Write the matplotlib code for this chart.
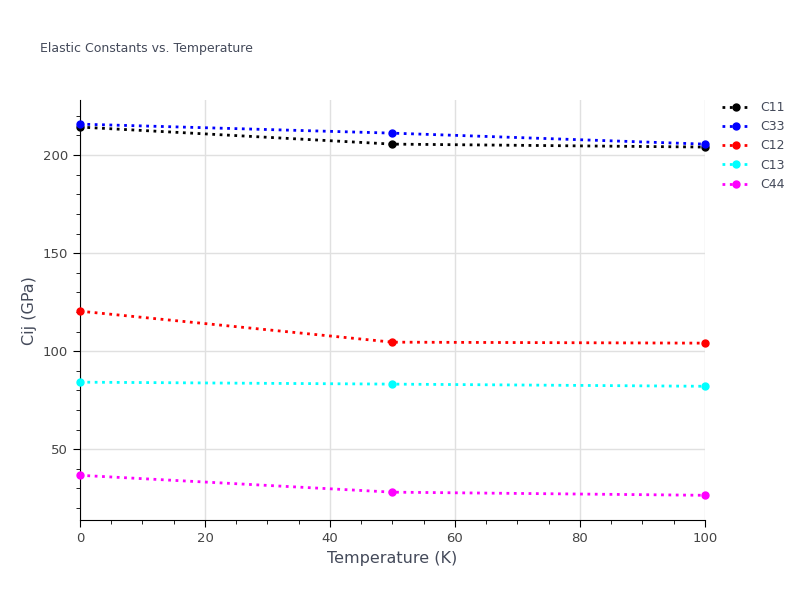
import matplotlib.pyplot as plt
from matplotlib.ticker import MultipleLocator

temperature = [0, 50, 100]
c11 = [214.3, 205.6, 204.1]
c33 = [215.8, 211.2, 205.6]
c12 = [120.4, 104.6, 104.1]
c13 = [84.2, 83.2, 82.1]
c44 = [36.7, 28.1, 26.5]

series = [("C11", c11, "black"), ("C33", c33, "blue"), ("C12", c12, "red"),
          ("C13", c13, "cyan"), ("C44", c44, "magenta")]

fig = plt.figure(figsize=(8, 6), dpi=100)
ax = fig.add_axes([0.1, 0.133, 0.781, 0.7])

for name, values, color in series:
    ax.plot(temperature, values, linestyle=":", linewidth=2, color=color,
            marker="o", markersize=5, label=name, clip_on=False, zorder=3)

ax.set_xlim(0, 100)
ax.set_ylim(13.8, 228)
ax.xaxis.set_major_locator(MultipleLocator(20))
ax.xaxis.set_minor_locator(MultipleLocator(5))
ax.yaxis.set_major_locator(MultipleLocator(50))
ax.yaxis.set_minor_locator(MultipleLocator(10))
ax.grid(True, which="major", color="#e0e0e0", linewidth=1)
for side in ("top", "right"):
    ax.spines[side].set_visible(False)
for side in ("left", "bottom"):
    ax.spines[side].set_color("black")
ax.tick_params(colors="#444444", labelsize=9.5, which="both", color="black")
ax.tick_params(which="major", length=5)
ax.tick_params(which="minor", length=3)

label_color = "#444a5a"
ax.set_xlabel("Temperature (K)", fontsize=11.5, color=label_color)
ax.set_ylabel("Cij (GPa)", fontsize=11.5, color=label_color)
fig.text(0.05, 0.913, "Elastic Constants vs. Temperature", fontsize=9, color=label_color)

ax.legend(loc="upper left", bbox_to_anchor=(1.01, 1.025), frameon=False, fontsize=9,
          handlelength=2.2, labelcolor=label_color)

fig.savefig("out.png")
